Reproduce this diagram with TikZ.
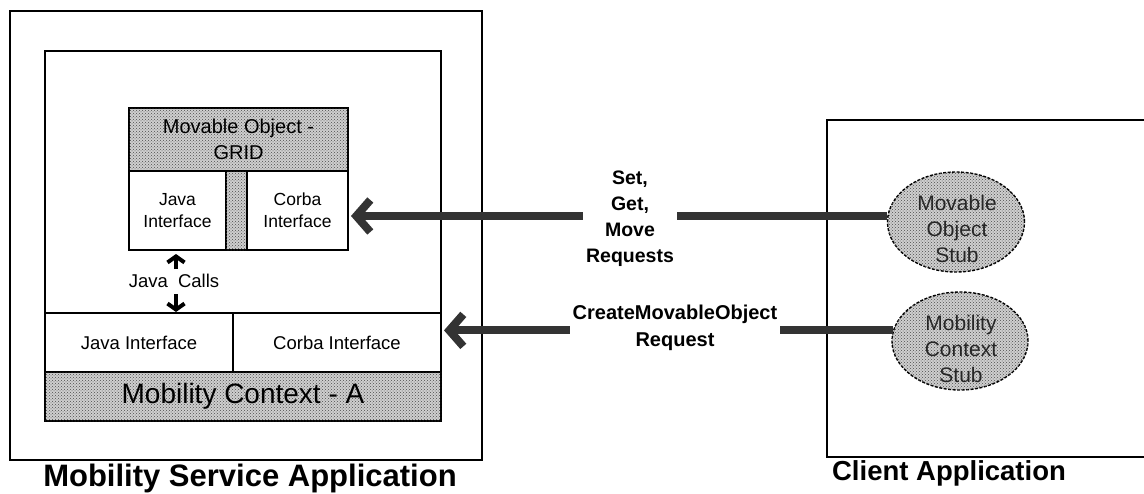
\documentclass[tikz,border=0pt]{standalone}
\usepackage{fontspec}
\setmainfont{Liberation Sans}
\usetikzlibrary{arrows.meta,patterns,shapes.geometric}
\newcommand{\fsz}[2]{\fontsize{#1}{#2}\selectfont}
\begin{document}
\begin{tikzpicture}[x=1pt,y=-1pt,
  frame/.style={draw=black,line width=1.3pt,inner sep=0pt,outer sep=0pt},
  dotted fill/.style={fill=gray!38,postaction={pattern=crosshatch dots,pattern color=black!70}},
  cell/.style={frame,align=center,font=\fsz{17.5}{22}},
  band/.style={frame,dotted fill,align=center},
  stub/.style={ellipse,draw=black,line width=1.4pt,dash pattern=on 3pt off 1.5pt,
    dotted fill,inner sep=0pt},
  stubtext/.style={align=center,inner sep=0pt,font=\fsz{21}{26},text=black!85},
  request/.style={draw=black!80,line width=8pt},
  bigarrow/.style={request,-{Straight Barb[length=14pt,width=32pt]}},
  smallarrow/.style={draw=black,line width=4pt,-{Straight Barb[length=6pt,width=17pt]}},
  reqlabel/.style={align=center,inner sep=3pt,font=\bfseries\fsz{19.5}{26}},
  title/.style={font=\bfseries\fsz{27.5}{32}}]
\useasboundingbox (0,0) rectangle (1144,493);

% Mobility service application: outer and inner frames
\node[frame,minimum width=472pt,minimum height=449pt] (msa) at (246,235.5) {};
\node[frame,minimum width=396pt,minimum height=370pt] (inner) at (243,236) {};
\node[title,font=\bfseries\fsz{31}{34}] (msatitle) at (250,478) {Mobility Service Application};

% Movable object - GRID
\node[band,minimum width=219pt,minimum height=63pt,font=\fsz{20}{26}] (grid) at (238.5,139.5) {Movable Object -\\GRID};
\node[cell,minimum width=97pt,minimum height=79pt] (javaA) at (177.5,210.5) {Java\\Interface};
\node[band,minimum width=21pt,minimum height=79pt] (gridcol) at (236.5,210.5) {};
\node[cell,minimum width=101pt,minimum height=79pt] (corbaA) at (297.5,210.5) {Corba\\Interface};

% Mobility context - A
\node[cell,minimum width=188pt,minimum height=59pt,font=\fsz{18.5}{22}] (javaB) at (139,342.5) {Java Interface};
\node[cell,minimum width=208pt,minimum height=59pt,font=\fsz{18.5}{22}] (corbaB) at (337,342.5) {Corba Interface};
\node[band,minimum width=396pt,minimum height=49pt,font=\fsz{28}{32}] (ctx) at (243,396.5) {Mobility Context - A};

% Java calls between the two Java interfaces
\node[font=\fsz{18.5}{22},inner sep=2pt] (calls) at (174,281) {Java\ \ Calls};
\coordinate (upTail) at (176,269);
\coordinate (downTail) at (176,294);
\draw[smallarrow,shorten >=4pt] (upTail) -- (upTail |- javaA.south);
\draw[smallarrow,shorten >=1pt] (downTail) -- (downTail |- javaB.north);

% Client application
\draw[line width=1.3pt] (1146,120) -- (827,120) -- (827,457) -- (1146,457);
\node[title] (catitle) at (949,473) {Client Application};
\node[stub,minimum width=137pt,minimum height=100pt] (mos) at (956,222) {};
\node[stubtext] (mostext) at (957,229) {Movable\\Object\\Stub};
\node[stub,minimum width=136pt,minimum height=98pt] (mcs) at (960,341) {};
\node[stubtext] (mcstext) at (961,349) {Mobility\\Context\\Stub};

% Requests
\node[reqlabel] (setlbl) at (630,219) {Set,\\Get,\\Move\\Requests};
\draw[request] (mos.175) -- (mos.175 -| setlbl.east);
\draw[bigarrow] (mos.175 -| setlbl.west) -- ([xshift=3pt]mos.175 -| corbaA.east);

\node[reqlabel,font=\bfseries\fsz{20}{27}] (createlbl) at (675,328) {CreateMovableObject\\Request};
\draw[request] (mcs.171) -- (mcs.171 -| createlbl.east);
\draw[bigarrow] (mcs.171 -| createlbl.west) -- ([xshift=3pt]mcs.171 -| corbaB.east);
\end{tikzpicture}
\end{document}
